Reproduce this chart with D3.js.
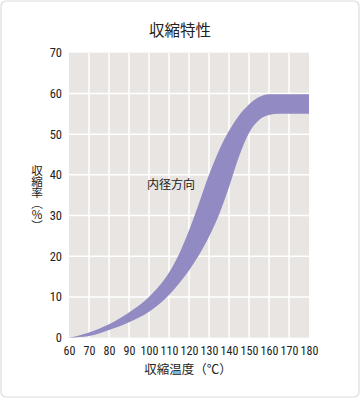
<!DOCTYPE html>
<html><head><meta charset="utf-8">
<script src="https://cdn.jsdelivr.net/npm/d3@7"></script>
<style>
html,body{margin:0;padding:0;background:#fff;}
svg{display:block;}
</style></head>
<body>
<script>
// Data
const temps  = [60, 70, 80, 90, 100, 110, 115, 120, 125, 130, 135, 140, 145, 150, 155, 160, 165, 170, 180];
const upper  = [0, 1.3, 3.3, 6.2, 10, 16, 20.5, 26.3, 33, 40, 46, 50.8, 54.6, 57.3, 59.1, 59.8, 59.8, 59.8, 59.8];
const lower  = [0, 0.4, 1.9, 3.8, 6.4, 10.5, 13.3, 16.5, 20.3, 24.8, 30.2, 37, 44.5, 50.3, 53.5, 54.7, 55, 55, 55];
const xTicks = [60, 70, 80, 90, 100, 110, 120, 130, 140, 150, 160, 170, 180];
const yTicks = [0, 10, 20, 30, 40, 50, 60, 70];
const title = "収縮特性";
const xLabel = "収縮温度（℃）";
const yLabel = "収縮率（％）";
const annotation = "内径方向";

const W = 360, H = 399;
const svg = d3.select("body").append("svg").attr("width", W).attr("height", H);

svg.append("rect").attr("x", 1).attr("y", 1).attr("width", W - 2).attr("height", H - 3)
  .attr("rx", 5).attr("fill", "#fff").attr("stroke", "#dcdcdc").attr("stroke-width", 1.2);

const x = d3.scaleLinear().domain([60, 180]).range([69, 309]);
const y = d3.scaleLinear().domain([0, 70]).range([337.7, 52.7]);

const numFont = "'Liberation Sans Narrow','Roboto Condensed','DejaVu Sans Condensed',sans-serif";
const jpFont = "'Noto Sans CJK JP','Noto Sans CJK SC',sans-serif";

svg.append("rect").attr("x", x(60)).attr("y", y(70)).attr("width", x(180) - x(60)).attr("height", y(0) - y(70))
  .attr("fill", "#e8e5e2");

const g = svg.append("g");
g.selectAll("line.v").data(xTicks.filter(t => t > 60 && t < 180)).join("line")
  .attr("x1", d => x(d)).attr("x2", d => x(d)).attr("y1", y(70)).attr("y2", y(0))
  .attr("stroke", "#fff").attr("stroke-width", 1.5);
g.selectAll("line.h").data(yTicks.filter(t => t > 0 && t < 70)).join("line")
  .attr("y1", d => y(d)).attr("y2", d => y(d)).attr("x1", x(60)).attr("x2", x(180))
  .attr("stroke", "#fff").attr("stroke-width", 1.5);

const pts = temps.map((t, i) => ({t, u: upper[i], l: lower[i]}));
const area = d3.area().x(d => x(d.t)).y0(d => y(d.l)).y1(d => y(d.u)).curve(d3.curveMonotoneX);
svg.append("path").datum(pts).attr("d", area).attr("fill", "#918ac3");

// axes via d3
const xAxis = d3.axisBottom(x).tickValues(xTicks).tickSize(0).tickPadding(9);
const xa = svg.append("g").attr("transform", `translate(0,${y(0)})`).call(xAxis);
xa.select(".domain").remove();
xa.selectAll("text").attr("font-family", numFont).attr("font-size", 12).attr("fill", "#222");

const yAxis = d3.axisLeft(y).tickValues(yTicks).tickSize(0).tickPadding(7);
const ya = svg.append("g").attr("transform", `translate(${x(60)},0)`).call(yAxis);
ya.select(".domain").remove();
ya.selectAll("text").attr("font-family", numFont).attr("font-size", 12.5).attr("fill", "#222");

svg.append("text").attr("x", 180).attr("y", 36).attr("text-anchor", "middle")
  .attr("font-family", jpFont).attr("font-size", 15.5).attr("fill", "#222").text(title);

svg.append("text").attr("x", 188).attr("y", 374).attr("text-anchor", "middle")
  .attr("font-family", jpFont).attr("font-size", 12.5).attr("fill", "#222").text(xLabel);

svg.append("text").attr("x", 37).attr("y", 165)
  .attr("font-family", jpFont).attr("font-size", 11.5).attr("fill", "#222")
  .style("writing-mode", "vertical-rl").style("glyph-orientation-vertical", "0")
  .attr("letter-spacing", -0.5).text(yLabel);

svg.append("text").attr("x", 171).attr("y", 188.5).attr("text-anchor", "middle")
  .attr("font-family", jpFont).attr("font-size", 12).attr("fill", "#222").text(annotation);
</script>
</body></html>
